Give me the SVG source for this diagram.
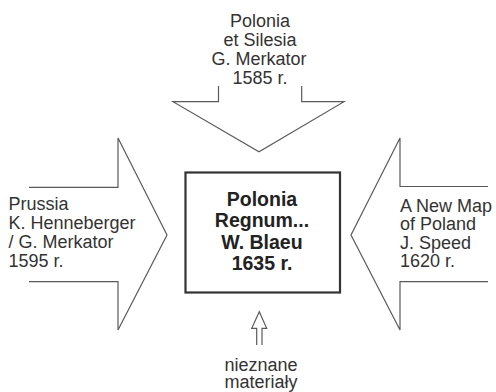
<svg xmlns="http://www.w3.org/2000/svg" width="496" height="392" viewBox="0 0 496 392">
<style>
.arr{fill:none;stroke:#5a5a5a;stroke-width:1.2;stroke-linejoin:miter}
.t{font-family:"Liberation Sans",Arial,sans-serif;font-size:18px;fill:#333}
.c{text-anchor:middle}
.b{font-weight:bold;font-size:19.5px;fill:#222}
</style>
<rect width="496" height="392" fill="#fff"/>
<g id="connectors">
<polyline id="arrow-top" class="arr" points="218.5,86 218.5,101.7 173,101.7 259,151.7 344,101.7 301.7,101.7 301.7,86"/>
<polyline id="arrow-left" class="arr" points="29,187.3 118,187.3 118,138 167,235 118,330 118,281.7 29,281.7"/>
<polyline id="arrow-right" class="arr" points="488,186.5 400,186.5 400,138 351,235 400,330 400,281.7 488,281.7"/>
<polyline id="arrow-bottom" class="arr" points="256.7,345 256.7,328.3 251.7,328.3 259.3,311.7 266.7,328.3 262,328.3 262,345"/>
</g>
<g id="node-top">
<text class="t c" x="260" y="26.7">Polonia</text>
<text class="t c" x="260" y="46">et Silesia</text>
<text class="t c" x="259" y="65">G. Merkator</text>
<text class="t c" x="260" y="83.5">1585 r.</text>
</g>
<g id="node-left">
<text class="t" x="8.5" y="210">Prussia</text>
<text class="t" x="8.5" y="229">K. Henneberger</text>
<text class="t" x="8.5" y="247.5">/ G. Merkator</text>
<text class="t" x="8.5" y="266.5">1595 r.</text>
</g>
<g id="node-right">
<text class="t" x="400" y="211.5">A New Map</text>
<text class="t" x="400" y="230">of Poland</text>
<text class="t" x="400" y="248.5">J. Speed</text>
<text class="t" x="400" y="267">1620 r.</text>
</g>
<g id="node-center">
<rect x="185.5" y="172.5" width="154.5" height="120" fill="#fff" stroke="#333" stroke-width="2.2"/>
<text class="t c b" x="262" y="205.5">Polonia</text>
<text class="t c b" x="262" y="227">Regnum...</text>
<text class="t c b" x="262" y="248.5">W. Blaeu</text>
<text class="t c b" x="262" y="270">1635 r.</text>
</g>
<g id="node-bottom">
<text class="t c" x="261" y="370.5">nieznane</text>
<text class="t c" x="261" y="388">materiały</text>
</g>
</svg>
